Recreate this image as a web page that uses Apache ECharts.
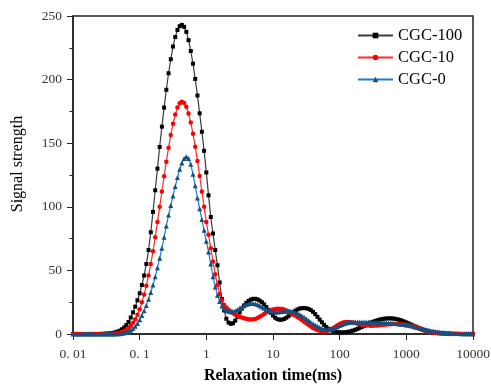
<!DOCTYPE html>
<html><head><meta charset="utf-8">
<script src="https://cdn.jsdelivr.net/npm/echarts@6/dist/echarts.min.js"></script>
<style>html,body{margin:0;padding:0;background:#fff}#c{width:491px;height:384px}</style>
</head><body><div id="c"></div>
<script>
// ---- data ----
const seriesNames = ['CGC-100', 'CGC-10', 'CGC-0'];
const xTickLabels = ['0. 01', '0. 1', '1', '10', '100', '1000', '10000'];
const xAxisTitle = 'Relaxation time(ms)';
const yAxisTitle = 'Signal strength';
// T2 sampling grid: starts at 0.01 ms, 30 log-spaced points per decade, 181 points to 10000 ms
const gridStartExp = -2;
const pointsPerDecade = 30;

const cgc100 = [
  0,0,0,0,0,0,0,0,0,0,
  0,0,0,0.1,0.2,0.3,0.4,0.6,0.9,1.3,
  1.8,2.6,3.7,5.1,7,9.5,13,17,21.5,26.5,
  32,38.5,46,55,66,80,96,113,130,147,
  163,178,192,205,216,226,233.5,239,242,243,
  241.5,237.5,231,222.5,212.5,200.5,187.5,173.5,159,144,
  127,109,92,79,66,54,40.5,27.5,18.5,12,
  9,8,8.5,10.5,13.5,17,20,22.5,24.5,26,
  27,27.6,27.7,27.2,26.3,25,23.3,21.2,19,16.7,
  14.5,12.8,11.7,11.2,11.3,11.8,12.8,14,15.5,17,
  18.3,19.3,20,20.3,20.4,20.2,19.7,18.8,17.4,15.6,
  13.5,11.3,9.2,7.2,5.5,4.1,3.1,2.3,1.8,1.5,
  1.3,1.2,1.3,1.5,1.8,2.2,2.7,3.3,4,4.8,
  5.6,6.4,7.3,8.1,8.9,9.6,10.2,10.8,11.3,11.7,
  12,12.2,12.3,12.3,12.2,11.9,11.6,11.1,10.5,9.8,
  9.1,8.3,7.5,6.7,5.9,5.1,4.4,3.7,3.1,2.6,
  2.1,1.7,1.4,1.1,0.9,0.7,0.5,0.4,0.3,0.2,
  0.2,0.1,0.1,0.1,0,0,0,0,0,0,
  0
];
const cgc10 = [
  0,0,0,0,0,0,0,0,0,0,
  0,0,0,0,0,0,0,0.1,0.2,0.4,
  0.6,1,1.5,2.3,3.3,4.7,6.5,8.8,11.6,15.2,
  19.5,25,31,38,46,55,65,76,88,100,
  112,124,135.5,146.5,156.5,165.3,172.5,178,181.4,182.6,
  181.7,178.6,173.4,166.2,157.4,147.3,136.1,124.2,112,100,
  88,78,67.5,57,47,38.5,31.5,26.5,23,20.8,
  19,17.6,16.3,15.2,14.3,13.5,12.9,12.3,11.9,11.6,
  11.4,11.5,11.8,12.5,13.5,14.6,15.8,16.9,17.8,18.6,
  19.2,19.6,19.9,19.9,19.7,19.2,18.5,17.6,16.5,15.3,
  14.5,13.4,12.2,11,9.7,8.4,7.1,5.9,4.8,3.9,
  3.1,2.5,2.1,2,2.2,2.7,3.5,4.5,5.7,6.9,
  7.9,8.7,9.2,9.5,9.5,9.3,9,8.6,8.1,7.6,
  7.2,6.9,6.7,6.6,6.5,6.5,6.6,6.7,6.9,7.1,
  7.3,7.5,7.6,7.7,7.8,7.8,7.8,7.7,7.6,7.4,
  7.2,6.9,6.5,6,5.4,4.8,4.1,3.4,2.8,2.2,
  1.7,1.3,1,0.7,0.5,0.4,0.3,0.2,0.1,0.1,
  0,0,0,0,0,0,0,0,0,0,
  0
];
const cgc0 = [
  0,0,0,0,0,0,0,0,0,0,
  0,0,0,0,0,0,0,0,0,0,
  0.1,0.2,0.4,0.7,1.2,1.9,2.9,4.3,6,8.3,
  11.2,14.5,18.3,22.5,27.3,32.7,38.5,45,52,59.5,
  67.5,76,85,93.5,101,108.5,116,123,129.5,134.5,
  138,139.4,138,133.5,125.5,116.5,107,98.5,90,81.5,
  73,64.5,55,45,37,30.5,25.5,22,19.8,18.5,
  17.8,17.5,17.6,18.2,19.1,20.2,21.3,22.3,23.1,23.7,
  24,24,23.7,23.1,22.3,21.3,20.3,19.3,18.5,17.9,
  17.5,17.3,17.3,17.4,17.6,17.8,17.9,18,17.9,17.6,
  17,16.3,15.4,14.3,13.1,11.9,10.6,9.3,8.1,7,
  6,5.1,4.4,3.9,3.6,3.5,3.7,4.2,4.9,5.7,
  6.6,7.4,8.1,8.6,9,9.2,9.3,9.4,9.4,9.4,
  9.4,9.4,9.4,9.4,9.3,9.3,9.2,9.2,9.1,9,
  8.9,8.8,8.7,8.6,8.5,8.3,8.1,7.9,7.7,7.4,
  7.1,6.8,6.4,6,5.6,5.2,4.7,4.3,3.8,3.4,
  3,2.6,2.3,2,1.7,1.5,1.3,1.1,0.9,0.8,
  0.6,0.5,0.4,0.3,0.3,0.2,0.2,0.1,0.1,0.1,
  0
];

// ---- build ----
const serif = "'Times New Roman','Liberation Serif','DejaVu Serif',serif";
function pairs(vals) {
  return vals.map((v, i) => [Math.pow(10, gridStartExp + i / pointsPerDecade), v]);
}
const styles = [
  { line: '#3a3a3a', item: '#000000', symbol: 'rect', size: 4 },
  { line: '#ff2a2a', item: '#ff0000', symbol: 'circle', size: 4.5 },
  { line: '#1f78d8', item: '#17507e', symbol: 'triangle', size: 5 }
];
const values = [cgc100, cgc10, cgc0];

const chart = echarts.init(document.getElementById('c'), null, { renderer: 'canvas' });
chart.setOption({
  animation: false,
  backgroundColor: '#fff',
  grid: { left: 73, right: 18, top: 16, bottom: 50, containLabel: false, outerBoundsMode: 'none',
    show: true, borderColor: '#222', borderWidth: 1.5, backgroundColor: 'transparent' },
  legend: {
    data: seriesNames, orient: 'vertical', left: 352, top: 22,
    itemWidth: 35, itemHeight: 7, itemGap: 5,
    textStyle: { fontFamily: serif, fontSize: 16.5, color: '#000' }
  },
  xAxis: {
    type: 'log', logBase: 10, min: 0.01, max: 10000,
    name: xAxisTitle, nameLocation: 'middle', nameGap: 34,
    nameTextStyle: { fontFamily: serif, fontSize: 16, fontWeight: 'bold', color: '#000' },
    axisLine: { lineStyle: { color: '#222', width: 1.5 } },
    axisTick: { inside: false, length: 6, lineStyle: { color: '#222', width: 1 } },
    axisLabel: { margin: 13, fontFamily: serif, fontSize: 13.5, color: '#333',
      formatter: v => xTickLabels[Math.round(Math.log10(v)) - gridStartExp] },
    splitLine: { show: false }
  },
  yAxis: {
    type: 'value', min: 0, max: 250, interval: 50,
    axisLine: { show: true, lineStyle: { color: '#222', width: 1.5 } },
    axisTick: { show: true, inside: false, length: 6, lineStyle: { color: '#222', width: 1 } },
    minorTick: { show: true, splitNumber: 2, length: 3.5, lineStyle: { color: '#222', width: 1 } },
    axisLabel: { margin: 11, fontFamily: serif, fontSize: 13.5, color: '#333' },
    splitLine: { show: false }
  },
  graphic: [{
    type: 'text', x: 18, y: 164, rotation: Math.PI / 2,
    style: { text: yAxisTitle, fontFamily: serif, fontSize: 16, fill: '#000', align: 'center', verticalAlign: 'middle' }
  }],
  series: seriesNames.map((name, k) => ({
    name, type: 'line', data: pairs(values[k]),
    symbol: styles[k].symbol, symbolSize: styles[k].size, showAllSymbol: true,
    lineStyle: { color: styles[k].line, width: 1.2 },
    itemStyle: { color: styles[k].item },
    emphasis: { disabled: true },
    clip: false
  }))
});
</script></body></html>
